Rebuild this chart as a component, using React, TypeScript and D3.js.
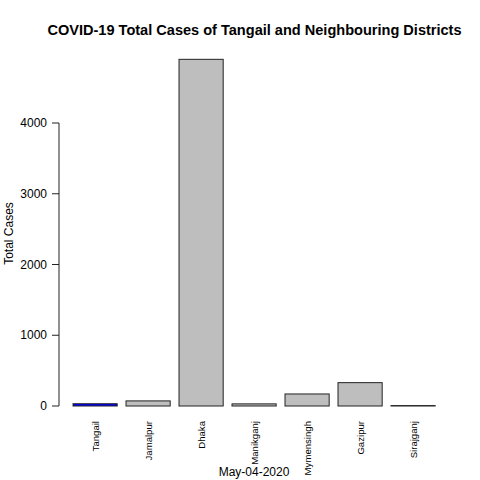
import React from 'react'
import * as d3 from 'd3'

const districts = ['Tangail', 'Jamalpur', 'Dhaka', 'Manikganj', 'Mymensingh', 'Gazipur', 'Sirajganj']
const totalCases = [32, 72, 4900, 30, 170, 330, 6]
const yTicks = [0, 1000, 2000, 3000, 4000]
const highlight = 'Tangail'

const App = () => {
  const w = 480
  const h = 480

  const xScale = d3.scaleBand<string>()
    .domain(districts)
    .range([64.2, 444])
    .paddingInner(1 / 6)
    .paddingOuter(1 / 6)

  const yScale = d3.scaleLinear()
    .domain([0, 4000])
    .range([406, 123])

  const font = '"Liberation Sans", Arial, sans-serif'
  const axisX = 59

  return (
    <svg width={w} height={h} style={{display: 'block', position: 'absolute', left: 0, top: 0, background: '#fff'}} fontFamily={font}>
      <text x={254.5} y={35} textAnchor="middle" fontSize={14.55} fontWeight="bold">
        COVID-19 Total Cases of Tangail and Neighbouring Districts
      </text>

      {/* bars */}
      {districts.map((d, i) => (
        <rect key={d}
          x={xScale(d)}
          y={yScale(totalCases[i])}
          width={xScale.bandwidth()}
          height={yScale(0) - yScale(totalCases[i])}
          fill={d === highlight ? '#0000ff' : '#bebebe'}
          stroke="#222"
          strokeWidth={1} />
      ))}

      {/* y axis */}
      <line x1={axisX} x2={axisX} y1={yScale(0)} y2={yScale(4000)} stroke="#222" />
      {yTicks.map(t => (
        <g key={t} transform={`translate(0,${yScale(t)})`}>
          <line x1={axisX - 7} x2={axisX} stroke="#222" />
          <text x={axisX - 12} dy="0.35em" textAnchor="end" fontSize={12}>{t}</text>
        </g>
      ))}
      <text transform={`translate(13,${(yScale(0) + yScale(4000)) / 2 - 31}) rotate(-90)`} textAnchor="middle" fontSize={12}>
        Total Cases
      </text>

      {/* category names */}
      {districts.map(d => (
        <text key={d}
          transform={`translate(${(xScale(d) as number) + xScale.bandwidth() / 2 + 3.5},421) rotate(-90)`}
          textAnchor="end" fontSize={9.6}>
          {d}
        </text>
      ))}

      <text x={254} y={476} textAnchor="middle" fontSize={12}>May-04-2020</text>
    </svg>
  )
}

export default App
